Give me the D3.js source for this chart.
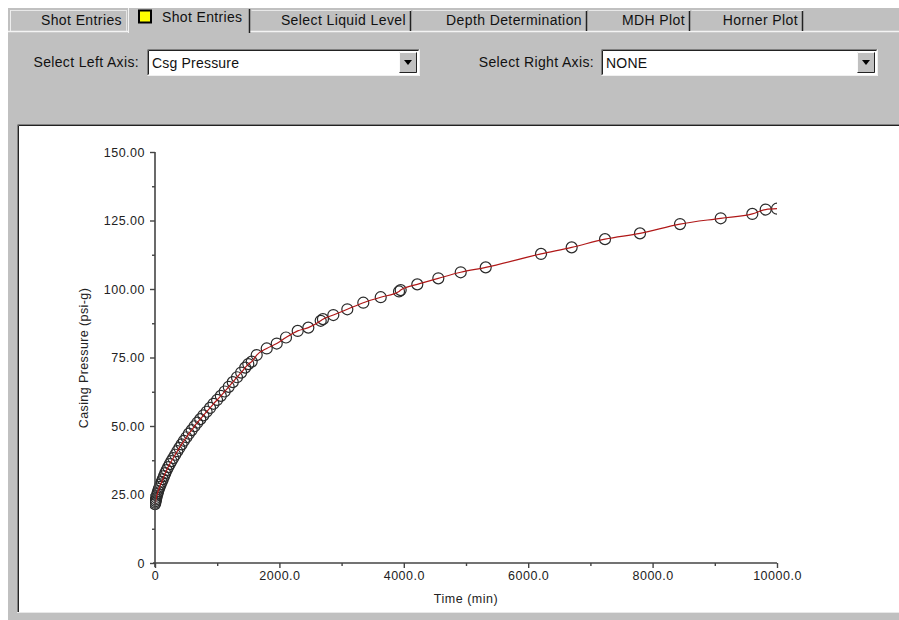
<!DOCTYPE html>
<html><head><meta charset="utf-8">
<script src="https://cdn.jsdelivr.net/npm/d3@7/dist/d3.min.js"></script>
<style>
html,body{margin:0;padding:0;background:#fff;}
svg{display:block;font-family:"Liberation Sans",Arial,sans-serif;}
</style></head>
<body>
<svg id="c" width="899" height="620"></svg>
<script>
// ---- data ----
const tabLabels = ["Shot Entries", "Shot Entries", "Select Liquid Level", "Depth Determination", "MDH Plot", "Horner Plot"];
const leftAxisChoice = "Csg Pressure";
const rightAxisChoice = "NONE";
const xTitle = "Time (min)";
const yTitle = "Casing Pressure (psi-g)";
const xTicks = [0, 2000, 4000, 6000, 8000, 10000];
const xMinorTicks = [1000, 3000, 5000, 7000, 9000];
const yTicks = [0, 25, 50, 75, 100, 125, 150];
const yMinorTicks = [12.5, 37.5, 62.5, 87.5, 112.5, 137.5];
const timeMin = [0,5,10,15,22,30,40,50,62,75,90,108,125,145,165,188,212,238,265,294,325,358,392,428,465,505,545,590,635,680,728,778,830,885,940,998,1058,1120,1185,1250,1318,1385,1450,1500,1555,1635,1796,1957,2106,2294,2465,2664,2700,2867,3092,3349,3629,3923,3950,4217,4555,4915,5317,6206,6699,7235,7797,8441,9095,9603,9818,10000];
const casingPsi = [21.5,22.0,22.6,23.2,23.8,24.6,25.4,26.2,27.0,27.8,28.7,29.6,30.6,31.7,32.8,33.9,35.0,36.1,37.2,38.3,39.5,40.8,42.0,43.3,44.6,45.9,47.2,48.5,49.9,51.2,52.5,53.9,55.2,56.6,58.1,59.5,61.0,62.6,64.3,66.0,67.8,69.5,71.3,72.6,73.5,75.9,78.3,80.1,82.3,84.7,85.9,88.4,89.0,90.5,92.6,95.0,97.0,99.1,99.6,101.7,103.9,106.1,107.9,112.8,115.2,118.2,120.3,123.7,125.8,127.4,129.0,129.3];

const svg = d3.select("#c");
const gray = "#c0c0c0";

// ---- window chrome ----
svg.append("rect").attr("x",0).attr("y",0).attr("width",899).attr("height",620).attr("fill","#fff");
svg.append("rect").attr("x",8).attr("y",8).attr("width",891).attr("height",612).attr("fill",gray);

// tabs
const tabs = [
  {x0:10, x1:127, label:tabLabels[0], sel:false},
  {x0:128, x1:250, label:tabLabels[1], sel:true},
  {x0:251, x1:411, label:tabLabels[2], sel:false},
  {x0:412, x1:587, label:tabLabels[3], sel:false},
  {x0:588, x1:690, label:tabLabels[4], sel:false},
  {x0:691, x1:803, label:tabLabels[5], sel:false}
];
svg.append("line").attr("x1",8).attr("x2",899).attr("y1",31.5).attr("y2",31.5).attr("stroke","#f4f4f4").attr("stroke-width",1.5);
tabs.forEach(t=>{
  const g = svg.append("g");
  if (t.sel) {
    g.append("rect").attr("x",t.x0).attr("y",8).attr("width",t.x1-t.x0).attr("height",26).attr("fill",gray);
    g.append("line").attr("x1",t.x0+0.5).attr("x2",t.x0+0.5).attr("y1",8).attr("y2",33).attr("stroke","#f4f4f4");
    g.append("line").attr("x1",t.x1-0.5).attr("x2",t.x1-0.5).attr("y1",9).attr("y2",33).attr("stroke","#222").attr("stroke-width",1.5);
    g.append("rect").attr("x",t.x0+11).attr("y",10.5).attr("width",12).attr("height",12).attr("fill","#ffff00").attr("stroke","#000").attr("stroke-width",2);
    g.append("text").attr("x",t.x0+34).attr("y",22).attr("font-size",14).attr("letter-spacing","0.35px").attr("fill","#111").text(t.label);
  } else {
    g.append("line").attr("x1",t.x0+0.5).attr("x2",t.x1).attr("y1",10.5).attr("y2",10.5).attr("stroke","#e8e8e8");
    if (t.x0 === 10) g.append("line").attr("x1",t.x0+0.5).attr("x2",t.x0+0.5).attr("y1",10).attr("y2",31).attr("stroke","#eee");
    if (t.x0 !== 10) g.append("line").attr("x1",t.x1-0.5).attr("x2",t.x1-0.5).attr("y1",11).attr("y2",31).attr("stroke","#222").attr("stroke-width",1.5);
    else g.append("line").attr("x1",t.x1-0.5).attr("x2",t.x1-0.5).attr("y1",11).attr("y2",31).attr("stroke","#e6e6e6");
    g.append("text").attr("x",t.x1-5).attr("y",25).attr("text-anchor","end").attr("font-size",14).attr("letter-spacing","0.4px").attr("fill","#111").text(t.label);
  }
});

// dropdowns
function dropdown(labelX, label, bx0, bx1, value){
  svg.append("text").attr("x",labelX).attr("y",67).attr("text-anchor","end").attr("font-size",14).attr("letter-spacing","0.35px").attr("fill","#111").text(label);
  svg.append("rect").attr("x",bx0).attr("y",49).attr("width",bx1-bx0).attr("height",27).attr("fill","#fff");
  svg.append("path").attr("d",`M${bx0+0.5},${75.5}V${49.5}H${bx1-0.5}`).attr("fill","none").attr("stroke","#808080");
  svg.append("path").attr("d",`M${bx0+1.5},${74.5}V${50.5}H${bx1-1.5}`).attr("fill","none").attr("stroke","#222");
  svg.append("path").attr("d",`M${bx0+0.5},${75.5}H${bx1-0.5}V${49.5}`).attr("fill","none").attr("stroke","#f0f0f0");
  const bx = bx1-21;
  svg.append("rect").attr("x",bx).attr("y",52).attr("width",18).attr("height",21).attr("fill",gray);
  svg.append("path").attr("d",`M${bx+0.5},${72.5}V${52.5}H${bx+17.5}`).attr("fill","none").attr("stroke","#fafafa");
  svg.append("path").attr("d",`M${bx+0.5},${72.5}H${bx+17.5}V${52.5}`).attr("fill","none").attr("stroke","#222");
  svg.append("path").attr("d",`M${bx+5},${60}h8l-4,5z`).attr("fill","#000");
  svg.append("text").attr("x",bx0+5).attr("y",68).attr("font-size",14).attr("letter-spacing","0.2px").attr("fill","#111").text(value);
}
dropdown(139, "Select Left Axis:", 147, 420, leftAxisChoice);
dropdown(594, "Select Right Axis:", 601, 878, rightAxisChoice);

// plot panel
svg.append("rect").attr("x",17).attr("y",124).attr("width",882).attr("height",489).attr("fill","#fff");
svg.append("path").attr("d","M17.5,613V124.5H899").attr("fill","none").attr("stroke","#808080");
svg.append("path").attr("d","M18.5,612V125.5H899").attr("fill","none").attr("stroke","#222");
svg.append("line").attr("x1",17).attr("x2",899).attr("y1",612.5).attr("y2",612.5).attr("stroke","#e8e8e8");

// ---- chart ----
const x = d3.scaleLinear().domain([0,10000]).range([155,777]);
const y = d3.scaleLinear().domain([0,150]).range([563,152]);
const axisColor = "#444";
const fontTick = 12.5;

svg.append("clipPath").attr("id","clip").append("rect").attr("x",150).attr("y",140).attr("width",627).attr("height",424);

const pts = timeMin.map((t,i)=>[t,casingPsi[i]]);
const plot = svg.append("g").attr("clip-path","url(#clip)");
plot.selectAll("circle").data(pts).join("circle")
  .attr("cx",d=>x(d[0])).attr("cy",d=>y(d[1])).attr("r",5.5)
  .attr("fill","none").attr("stroke","#2a2a2a").attr("stroke-width",1.2);
plot.append("path").datum(pts)
  .attr("d",d3.line().x(d=>x(d[0])).y(d=>y(d[1])).curve(d3.curveMonotoneX))
  .attr("fill","none").attr("stroke","#b01818").attr("stroke-width",1.2);

// y axis
const yAxis = svg.append("g").attr("transform","translate(155,0)")
  .call(d3.axisLeft(y).tickValues(yTicks).tickSize(5).tickPadding(5)
    .tickFormat(d=>d===0?"0":d.toFixed(2)));
const yMinor = svg.append("g").attr("transform","translate(155,0)")
  .call(d3.axisLeft(y).tickValues(yMinorTicks).tickSize(3).tickFormat(""));
yMinor.select(".domain").remove();
const xAxis = svg.append("g").attr("transform","translate(0,563)")
  .call(d3.axisBottom(x).tickValues(xTicks).tickSize(5).tickPadding(3)
    .tickFormat(d=>d===0?"0":d.toFixed(1)));
const xMinor = svg.append("g").attr("transform","translate(0,563)")
  .call(d3.axisBottom(x).tickValues(xMinorTicks).tickSize(3).tickFormat(""));
xMinor.select(".domain").remove();

[yAxis,yMinor,xAxis,xMinor].forEach(g=>{
  g.selectAll("path.domain").attr("stroke",axisColor).attr("stroke-width",1.6);
  g.selectAll(".tick line").attr("stroke",axisColor).attr("stroke-width",1.4);
  g.selectAll("text").attr("font-family","'Liberation Sans',Arial,sans-serif")
    .attr("font-size",fontTick).attr("fill","#222").attr("letter-spacing","0.5px");
});
yAxis.select(".domain").attr("d","M0,152V567");
xAxis.select(".domain").attr("d","M153,0H777");

// titles
svg.append("text").attr("x",466).attr("y",603).attr("text-anchor","middle")
  .attr("font-size",12.5).attr("fill","#222").attr("letter-spacing","0.5px").text(xTitle);
svg.append("text").attr("transform","translate(88,358) rotate(-90)").attr("text-anchor","middle")
  .attr("font-size",12.5).attr("fill","#222").attr("letter-spacing","0.4px").text(yTitle);
</script>
</body></html>
